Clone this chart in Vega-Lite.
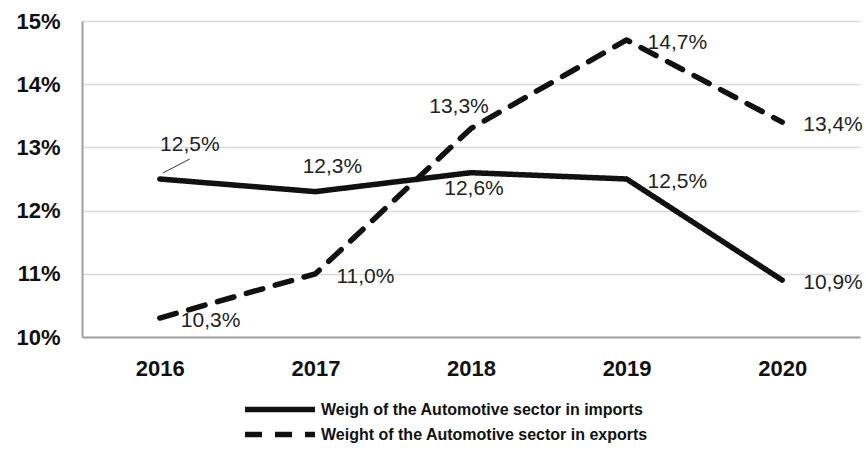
{
  "$schema": "https://vega.github.io/schema/vega-lite/v6.json",
  "width": 778,
  "height": 316,
  "autosize": {"type": "none"},
  "padding": {"left": 82, "top": 21, "right": 6, "bottom": 113},
  "background": "white",
  "config": {
    "view": {"stroke": null},
    "locale": {"number": {"decimal": ",", "thousands": ".", "grouping": [3], "currency": ["", " €"]}}
  },
  "data": {
    "values": [
      {"year": "2016", "series": "Weigh of the Automotive sector in imports", "value": 0.125},
      {"year": "2017", "series": "Weigh of the Automotive sector in imports", "value": 0.123},
      {"year": "2018", "series": "Weigh of the Automotive sector in imports", "value": 0.126},
      {"year": "2019", "series": "Weigh of the Automotive sector in imports", "value": 0.125},
      {"year": "2020", "series": "Weigh of the Automotive sector in imports", "value": 0.109},
      {"year": "2016", "series": "Weight of  the Automotive sector in exports", "value": 0.103},
      {"year": "2017", "series": "Weight of  the Automotive sector in exports", "value": 0.110},
      {"year": "2018", "series": "Weight of  the Automotive sector in exports", "value": 0.133},
      {"year": "2019", "series": "Weight of  the Automotive sector in exports", "value": 0.147},
      {"year": "2020", "series": "Weight of  the Automotive sector in exports", "value": 0.134}
    ]
  },
  "encoding": {
    "x": {
      "field": "year", "type": "ordinal",
      "scale": {"type": "point", "padding": 0.5},
      "axis": {
        "title": null, "labelAngle": 0, "ticks": false, "labelPadding": 21,
        "labelFont": "Liberation Sans", "labelFontWeight": "bold", "labelFontSize": 22, "labelColor": "#111",
        "domainColor": "#a0a0a0", "domainWidth": 2, "grid": false
      }
    },
    "y": {
      "field": "value", "type": "quantitative",
      "scale": {"domain": [0.10, 0.15], "nice": false, "zero": false},
      "axis": {
        "title": null, "values": [0.10, 0.11, 0.12, 0.13, 0.14, 0.15], "format": ".0%",
        "ticks": false, "labelPadding": 22,
        "labelFont": "Liberation Sans", "labelFontWeight": "bold", "labelFontSize": 22, "labelColor": "#111",
        "domainColor": "#a0a0a0", "domainWidth": 2, "gridColor": "#d9d9d9", "gridWidth": 1.5
      }
    }
  },
  "layer": [
    {
      "mark": {"type": "line", "strokeWidth": 5.5, "strokeCap": "round", "strokeJoin": "round", "color": "#111"},
      "encoding": {
        "strokeDash": {
          "field": "series", "type": "nominal",
          "scale": {
            "domain": ["Weigh of the Automotive sector in imports", "Weight of  the Automotive sector in exports"],
            "range": [[1, 0], [17, 13]]
          },
          "legend": {
            "orient": "none", "legendX": 160, "legendY": 376, "direction": "vertical", "title": null,
            "symbolType": "stroke", "symbolSize": 4900, "symbolStrokeWidth": 5.5, "symbolStrokeColor": "#111",
            "clipHeight": 25,
            "labelFont": "Liberation Sans", "labelFontWeight": "bold", "labelFontSize": 16, "labelLimit": 600,
            "labelColor": "#111", "labelOffset": 3, "rowPadding": 0
          }
        }
      }
    },
    {
      "transform": [{"filter": "(indexof(datum.series,'imports')>=0 && (datum.year=='2019' || datum.year=='2020')) || (indexof(datum.series,'exports')>=0 && datum.year!='2018')"}],
      "mark": {"type": "text", "align": "left", "baseline": "middle", "dx": 21, "dy": 3, "font": "Liberation Sans", "fontSize": 21, "color": "#222"},
      "encoding": {"text": {"field": "value", "type": "quantitative", "format": ".1%"}}
    },
    {
      "transform": [{"filter": "indexof(datum.series,'imports')>=0 && datum.year=='2016'"}],
      "mark": {"type": "text", "align": "center", "baseline": "middle", "dx": 30, "dy": -34, "font": "Liberation Sans", "fontSize": 21, "color": "#222"},
      "encoding": {"text": {"field": "value", "type": "quantitative", "format": ".1%"}}
    },
    {
      "transform": [{"filter": "indexof(datum.series,'imports')>=0 && datum.year=='2016'"}],
      "mark": {"type": "rule", "color": "#333", "strokeWidth": 1, "xOffset": 3, "yOffset": -6, "x2Offset": 30, "y2Offset": -20},
      "encoding": {"x2": {"field": "year"}, "y2": {"field": "value"}}
    },
    {
      "transform": [{"filter": "indexof(datum.series,'imports')>=0 && datum.year=='2017'"}],
      "mark": {"type": "text", "align": "center", "baseline": "middle", "dx": 17, "dy": -25, "font": "Liberation Sans", "fontSize": 21, "color": "#222"},
      "encoding": {"text": {"field": "value", "type": "quantitative", "format": ".1%"}}
    },
    {
      "transform": [{"filter": "indexof(datum.series,'imports')>=0 && datum.year=='2018'"}],
      "mark": {"type": "text", "align": "center", "baseline": "middle", "dx": 3, "dy": 16, "font": "Liberation Sans", "fontSize": 21, "color": "#222"},
      "encoding": {"text": {"field": "value", "type": "quantitative", "format": ".1%"}}
    },
    {
      "transform": [{"filter": "indexof(datum.series,'exports')>=0 && datum.year=='2018'"}],
      "mark": {"type": "text", "align": "center", "baseline": "middle", "dx": -12, "dy": -21, "font": "Liberation Sans", "fontSize": 21, "color": "#222"},
      "encoding": {"text": {"field": "value", "type": "quantitative", "format": ".1%"}}
    }
  ]
}
